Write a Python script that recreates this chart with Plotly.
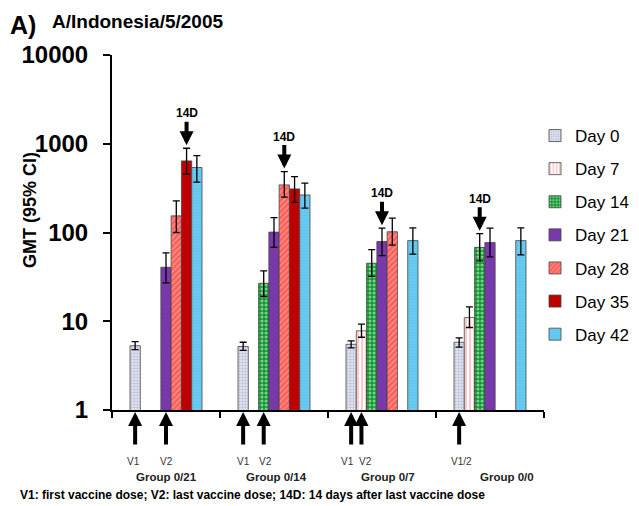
import math
import plotly.graph_objects as go

# ---------------- data ----------------
groups = ["Group 0/21", "Group 0/14", "Group 0/7", "Group 0/0"]
days = ["Day 0", "Day 7", "Day 14", "Day 21", "Day 28", "Day 35", "Day 42"]

day0 = [5.3, 5.2, 5.5, 5.8]
day0_hi = [5.9, 5.8, 6.0, 6.5]
day0_lo = [4.8, 4.7, 5.0, 5.1]

day7 = [None, None, 7.8, 11.0]
day7_hi = [None, None, 9.3, 14.5]
day7_lo = [None, None, 6.6, 8.5]

day14 = [None, 26.8, 45, 68]
day14_hi = [None, 37, 64, 97]
day14_lo = [None, 19, 32, 48]

day21 = [40.6, 101, 79, 77]
day21_hi = [59, 147, 112, 112]
day21_lo = [27, 68, 55, 53]

day28 = [154, 344, 102, None]
day28_hi = [227, 486, 145, None]
day28_lo = [100, 250, 72, None]

day35 = [641, 310, None, None]
day35_hi = [890, 426, None, None]
day35_lo = [454, 219, None, None]

day42 = [540, 265, 81, 81]
day42_hi = [736, 360, 113, 113]
day42_lo = [369, 188, 57, 56]

values = [day0, day7, day14, day21, day28, day35, day42]
highs = [day0_hi, day7_hi, day14_hi, day21_hi, day28_hi, day35_hi, day42_hi]
lows = [day0_lo, day7_lo, day14_lo, day21_lo, day28_lo, day35_lo, day42_lo]

# which day gets the "14D" arrow in each group (index into days)
arrow_14d_day = [5, 4, 3, 2]
# vaccine dose markers: (group, day index, label)
v_marks = [(0, 0, "V1"), (0, 3, "V2"),
           (1, 0, "V1"), (1, 2, "V2"),
           (2, 0, "V1"), (2, 1, "V2"),
           (3, 0, "V1/2")]
v_label_shift = [-2, 0, 0, 2, -4, 4, 2]
group_label_offset = [0.0, 0.02, 0.06, 0.16]

yticks = [1, 10, 100, 1000, 10000]
footnote = "V1: first vaccine dose; V2: last vaccine dose; 14D: 14 days after last vaccine dose"

# ---------------- styles ----------------
styles = [
    dict(color="#dfe2f0", pattern=dict(shape=".", fgcolor="#8f93aa", bgcolor="#dfe2f0", size=3, solidity=0.35)),
    dict(color="white", pattern=dict(shape="|", fgcolor="#ff4a4a", bgcolor="white", size=4, solidity=0.3)),
    dict(color="#0c962c", pattern=dict(shape=".", fgcolor="white", bgcolor="#0c962c", size=4, solidity=0.45)),
    dict(color="#7434a6", pattern=dict(shape="x", fgcolor="#5a2186", bgcolor="#7a3aac", size=3, solidity=0.15)),
    dict(color="#ff6b66", pattern=dict(shape="/", fgcolor="#ffd0cc", bgcolor="#ff5f58", size=4, solidity=0.3)),
    dict(color="#c00000", pattern=None),
    dict(color="#62c7ef", pattern=dict(shape="-", fgcolor="#4fb8e4", bgcolor="#68caf0", size=3, solidity=0.2)),
]

FONT = "Liberation Sans, Arial, sans-serif"
PAGE_W, PAGE_H = 639, 506
OFF = 8  # default page body margin
W, H = PAGE_W - OFF, PAGE_H - OFF
# plot area in page pixels
PX_L, PX_R, PX_T, PX_B = 112, 544, 55, 410
L, R, T, B = PX_L - OFF, W - (PX_R - OFF), PX_T - OFF, H - (PX_B - OFF)
n = len(days)
bargap = 1 / 3
bw = (1 - bargap) / n


def bar_x(g, d):
    return g + (d - (n - 1) / 2) * bw


def px_x(px):
    return (px - PX_L) / (PX_R - PX_L)


def px_y(py):
    return (PX_B - py) / (PX_B - PX_T)


fig = go.Figure()
xs = list(range(len(groups)))
for i, name in enumerate(days):
    v = values[i]
    up = [(h - a) if (a is not None) else None for a, h in zip(v, highs[i])]
    dn = [(a - l) if (a is not None) else None for a, l in zip(v, lows[i])]
    st = styles[i]
    marker = dict(color=st["color"], line=dict(color="#454545", width=0.8))
    if st["pattern"]:
        marker["pattern"] = st["pattern"]
    fig.add_trace(go.Bar(
        x=xs, y=v, name=name, marker=marker, legendgroup=name,
        error_y=dict(type="data", symmetric=False, array=up, arrayminus=dn,
                     color="black", thickness=1.3, width=3.5),
    ))

# 14D arrows
for g, d in enumerate(arrow_14d_day):
    fig.add_annotation(x=bar_x(g, d), y=math.log10(highs[d][g]),
                       xref="x", yref="y", yshift=3, text="<b>14D</b>",
                       showarrow=True, ax=0, ay=-32, arrowhead=2, arrowsize=0.7,
                       arrowwidth=4, arrowcolor="black",
                       font=dict(family=FONT, size=12, color="black"))

# vaccine arrows below axis
for k, (g, d, lab) in enumerate(v_marks):
    x = bar_x(g, d)
    fig.add_annotation(x=x, y=px_y(412), xref="x", yref="paper", text="",
                       showarrow=True, ax=0, ay=34, arrowhead=2, arrowsize=0.7,
                       arrowwidth=4, arrowcolor="black")
    fig.add_annotation(x=x, y=px_y(461), xref="x", yref="paper", text=lab,
                       xanchor="center", yanchor="middle", xshift=v_label_shift[k],
                       showarrow=False, font=dict(family=FONT, size=10, color="#333"))

for g, name in enumerate(groups):
    fig.add_annotation(x=g + group_label_offset[g], y=px_y(477), xref="x", yref="paper",
                       xanchor="center", yanchor="middle",
                       text="<b>%s</b>" % name, showarrow=False,
                       font=dict(family=FONT, size=11.5, color="#222"))

fig.add_annotation(x=px_x(18), y=px_y(495), xref="paper", yref="paper",
                   xanchor="left", yanchor="middle",
                   text="<b>%s</b>" % footnote, showarrow=False,
                   font=dict(family=FONT, size=12, color="black"))

fig.add_annotation(x=px_x(8), y=px_y(9), xref="paper", yref="paper",
                   xanchor="left", yanchor="top",
                   text="<b>A)</b>", showarrow=False,
                   font=dict(family=FONT, size=25, color="black"))
fig.add_annotation(x=px_x(50), y=px_y(9), xref="paper", yref="paper",
                   xanchor="left", yanchor="top",
                   text="<b>A/Indonesia/5/2005</b>", showarrow=False,
                   font=dict(family=FONT, size=19, color="black"))
fig.add_annotation(x=px_x(30), y=px_y(210), xref="paper", yref="paper", textangle=-90,
                   xanchor="center", yanchor="middle",
                   text="<b>GMT (95% CI)</b>", showarrow=False,
                   font=dict(family=FONT, size=18, color="black"))

fig.update_layout(
    width=W, height=H,
    margin=dict(l=L, r=R, t=T, b=B, autoexpand=False),
    paper_bgcolor="white", plot_bgcolor="white",
    barmode="group", bargap=bargap, bargroupgap=0,
    showlegend=True,
    legend=dict(x=px_x(535), y=px_y(118), xanchor="left", yanchor="top",
                font=dict(family=FONT, size=17, color="black"),
                tracegroupgap=8, traceorder="grouped",
                bgcolor="rgba(0,0,0,0)"),
    xaxis=dict(range=[-0.5, len(groups) - 0.5], tickmode="array",
               tickvals=[g - 0.5 for g in range(len(groups) + 1)],
               showticklabels=False, ticks="outside", ticklen=6, tickwidth=2,
               tickcolor="black", showline=True, linecolor="black", linewidth=2,
               showgrid=False, zeroline=False, automargin=False),
    yaxis=dict(type="log", range=[0, 4], tickmode="array", tickvals=yticks,
               ticktext=["<b>%d</b>" % t for t in yticks],
               ticks="outside", ticklen=7, tickwidth=2, tickcolor="black",
               showline=True, linecolor="black", linewidth=2, showgrid=False,
               zeroline=False, ticklabelstandoff=10, automargin=False,
               tickfont=dict(family=FONT, size=24, color="black")),
)

fig.write_html("out.html")
